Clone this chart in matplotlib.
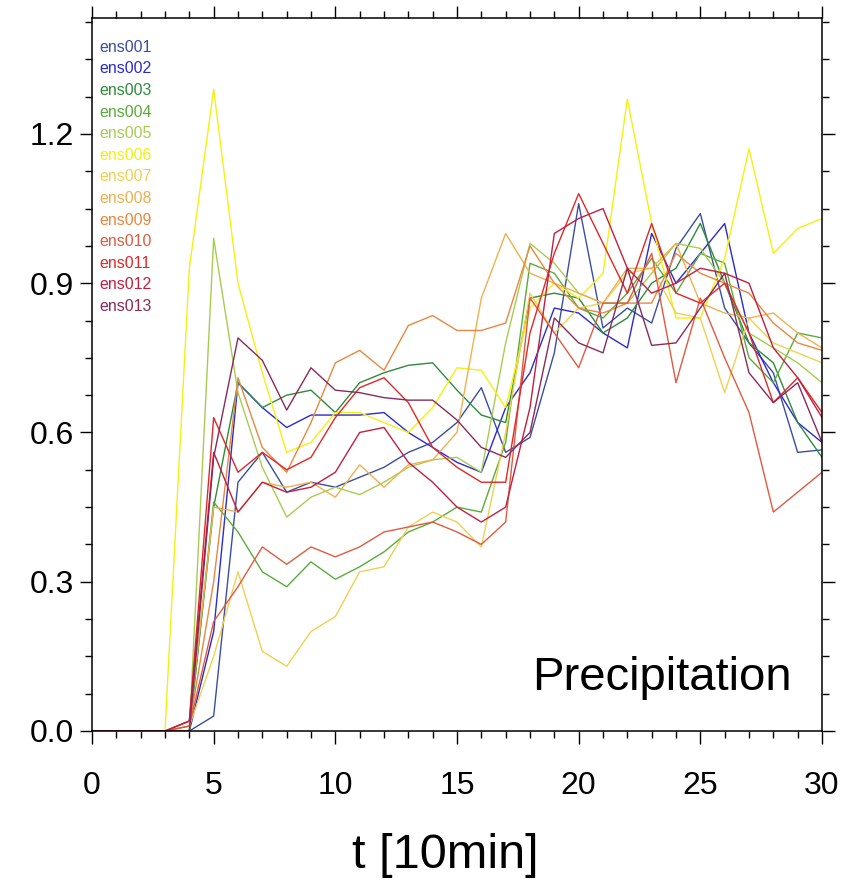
import matplotlib.pyplot as plt
import numpy as np
from matplotlib.ticker import MultipleLocator

t = np.arange(31)

ens_names = [f"ens{i:03d}" for i in range(1, 14)]
ens_colors = [
    "#3a4ea0", "#2a2ad0", "#2e8b3a", "#5aac3a", "#a8cc50", "#f5f010", "#f0d050",
    "#f0b050", "#e88840", "#e05a40", "#e02828", "#c02040", "#8a2a5a",
]

ens001 = [0, 0, 0, 0, 0, 0.03, 0.50, 0.56, 0.48, 0.50, 0.49, 0.51, 0.53, 0.56, 0.58, 0.62,
          0.69, 0.56, 0.59, 0.76, 1.06, 0.81, 0.85, 0.82, 0.97, 1.04, 0.85, 0.78, 0.72, 0.56, 0.565]
ens002 = [0, 0, 0, 0, 0, 0.20, 0.70, 0.65, 0.61, 0.635, 0.635, 0.635, 0.64, 0.60, 0.57, 0.54,
          0.52, 0.65, 0.72, 0.85, 0.84, 0.80, 0.77, 1.00, 0.90, 0.96, 1.02, 0.80, 0.70, 0.62, 0.58]
ens003 = [0, 0, 0, 0, 0, 0.45, 0.70, 0.65, 0.675, 0.685, 0.64, 0.70, 0.72, 0.735, 0.74, 0.685,
          0.635, 0.62, 0.87, 0.88, 0.87, 0.80, 0.83, 0.90, 0.93, 1.02, 0.90, 0.78, 0.74, 0.62, 0.55]
ens004 = [0, 0, 0, 0, 0, 0.46, 0.40, 0.32, 0.29, 0.34, 0.305, 0.33, 0.36, 0.40, 0.42, 0.45,
          0.44, 0.58, 0.94, 0.92, 0.85, 0.83, 0.88, 0.95, 0.88, 0.96, 0.94, 0.75, 0.70, 0.80, 0.79]
ens005 = [0, 0, 0, 0, 0, 0.99, 0.68, 0.53, 0.43, 0.47, 0.49, 0.475, 0.50, 0.53, 0.545, 0.55,
          0.52, 0.78, 0.98, 0.94, 0.88, 0.86, 0.86, 0.92, 0.98, 0.97, 0.90, 0.80, 0.77, 0.74, 0.70]
ens006 = [0, 0, 0, 0, 0.93, 1.29, 0.90, 0.72, 0.56, 0.58, 0.64, 0.64, 0.62, 0.60, 0.65, 0.73,
          0.725, 0.65, 0.85, 0.90, 0.87, 0.92, 1.27, 1.02, 0.83, 0.83, 0.95, 1.17, 0.96, 1.01, 1.03]
ens007 = [0, 0, 0, 0, 0.01, 0.15, 0.32, 0.16, 0.13, 0.20, 0.23, 0.32, 0.33, 0.41, 0.44, 0.42,
          0.37, 0.60, 0.88, 0.80, 0.85, 0.86, 0.92, 0.93, 0.84, 0.83, 0.68, 0.83, 0.78, 0.76, 0.74]
ens008 = [0, 0, 0, 0, 0.02, 0.45, 0.44, 0.50, 0.49, 0.50, 0.47, 0.535, 0.49, 0.535, 0.545, 0.60,
          0.87, 1.00, 0.92, 0.90, 0.88, 0.86, 0.93, 0.93, 0.98, 0.86, 0.84, 0.83, 0.84, 0.80, 0.77]
ens009 = [0, 0, 0, 0, 0.01, 0.30, 0.71, 0.57, 0.52, 0.62, 0.74, 0.765, 0.725, 0.815, 0.835, 0.805,
          0.805, 0.82, 0.975, 0.90, 0.85, 0.84, 0.86, 0.86, 0.96, 0.92, 0.90, 0.88, 0.82, 0.78, 0.765]
ens010 = [0, 0, 0, 0, 0.01, 0.22, 0.29, 0.37, 0.335, 0.37, 0.35, 0.37, 0.40, 0.41, 0.42, 0.40,
          0.375, 0.42, 0.87, 0.80, 0.73, 0.86, 0.86, 0.96, 0.70, 0.87, 0.75, 0.64, 0.44, 0.48, 0.52]
ens011 = [0, 0, 0, 0, 0.02, 0.63, 0.52, 0.56, 0.525, 0.55, 0.63, 0.69, 0.71, 0.66, 0.57, 0.53,
          0.50, 0.50, 0.80, 0.96, 1.08, 0.98, 0.88, 1.02, 0.88, 0.86, 0.90, 0.80, 0.66, 0.71, 0.64]
ens012 = [0, 0, 0, 0, 0.02, 0.56, 0.44, 0.50, 0.48, 0.49, 0.52, 0.60, 0.61, 0.54, 0.50, 0.45,
          0.42, 0.45, 0.65, 1.00, 1.03, 1.05, 0.93, 0.88, 0.90, 0.93, 0.92, 0.90, 0.77, 0.71, 0.63]
ens013 = [0, 0, 0, 0, 0, 0.55, 0.79, 0.745, 0.645, 0.73, 0.685, 0.68, 0.67, 0.665, 0.665, 0.625,
          0.57, 0.55, 0.60, 0.83, 0.78, 0.76, 0.93, 0.775, 0.78, 0.85, 0.92, 0.72, 0.66, 0.70, 0.58]

ens_data = [ens001, ens002, ens003, ens004, ens005, ens006, ens007,
            ens008, ens009, ens010, ens011, ens012, ens013]

plt.rcParams["font.family"] = ["Liberation Sans", "DejaVu Sans"]

fig = plt.figure(figsize=(8.43, 8.81), dpi=100)
ax = fig.add_axes([92 / 843, 150 / 881, 730 / 843, 713 / 881])

for name, color, vals in zip(ens_names, ens_colors, ens_data):
    ax.plot(t, vals, color=color, lw=1.0)

ax.set_xlim(0, 30)
ax.set_ylim(0, 1.433)

ax.xaxis.set_major_locator(MultipleLocator(5))
ax.xaxis.set_minor_locator(MultipleLocator(1))
ax.yaxis.set_major_locator(MultipleLocator(0.3))
ax.yaxis.set_minor_locator(MultipleLocator(0.075))
ax.yaxis.set_major_formatter(lambda v, pos: f"{v:.1f}")

ax.tick_params(which="both", direction="out", top=True, right=True, width=1.0)
ax.tick_params(which="major", length=9, labelsize=23)
ax.tick_params(which="minor", length=5)
ax.tick_params(axis="x", which="major", pad=20)
ax.tick_params(axis="y", which="major", pad=4)
for s in ax.spines.values():
    s.set_linewidth(1.1)

# ensemble member labels, top left
for i, (name, color) in enumerate(zip(ens_names, ens_colors)):
    ax.text(0.0096, 0.959 - i * 21.6 / 713, name, color=color, fontsize=11.5,
            ha="left", va="center", transform=ax.transAxes)

ax.text(0.959, 0.0575, "Precipitation", fontsize=34, ha="right", va="baseline",
        transform=ax.transAxes)

fig.text(445 / 843, 1 - 856 / 881, "t [10min]", fontsize=35, ha="center", va="center")

fig.savefig("out.png", dpi=100)
